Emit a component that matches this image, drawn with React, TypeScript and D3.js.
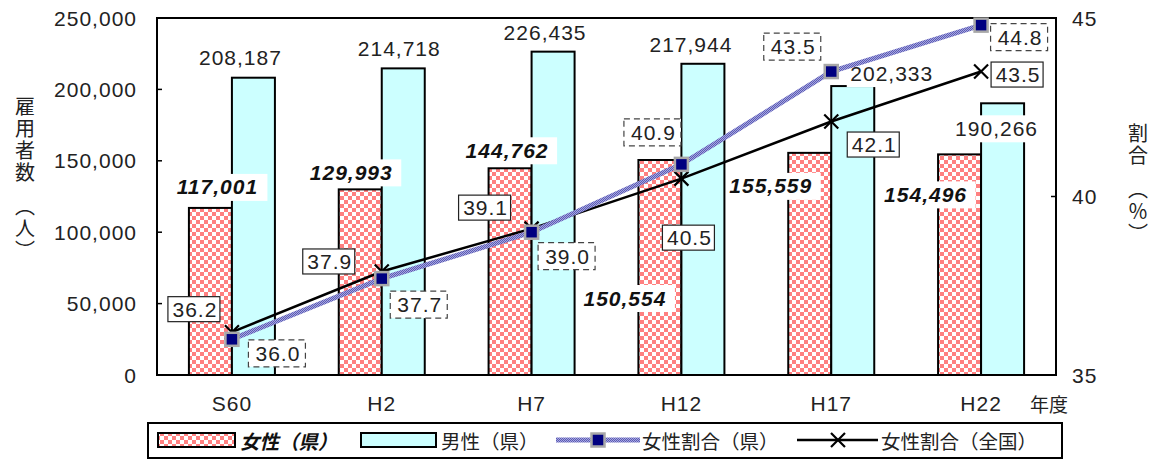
import React from "react";
import * as d3 from "d3";

// 年度
const years = ["S60", "H2", "H7", "H12", "H17", "H22"];
// 雇用者数（人）
const femaleCounts = [117001, 129993, 144762, 150554, 155559, 154496];
const maleCounts = [208187, 214718, 226435, 217944, 202333, 190266];
// 女性割合（%）
const ratioPref = [36.0, 37.7, 39.0, 40.9, 43.5, 44.8];
const ratioNation = [36.2, 37.9, 39.1, 40.5, 42.1, 43.5];

const countTicks = [0, 50000, 100000, 150000, 200000, 250000];
const ratioTicks = [35, 40, 45];

// label offsets (px) from the mark they belong to
const femaleLabelOff = [[7, -21], [-9, -17], [-3, -18], [-35, 138], [-39, 33], [-34, 40]];
const maleLabelOff = [[-13, -20], [-4, -20], [-8, -19], [-12, -19], [39, -13], [-6, 25]];
const prefLabelOff = [[45, 14], [37, 26], [35, 24], [-29, -32], [-39, -25], [38, 12]];
const nationLabelOff = [[-38, -23], [-53, -10], [-47, -21], [7, 59], [42, 23], [36, 3]];

const W = 1159;
const H = 459;
const left = 157;
const right = 1056;
const top = 18;
const bottom = 375;
const barW = 43;

const NUM = "'Liberation Sans', Arial, sans-serif";
const JP = "'Noto Sans CJK JP', sans-serif";

export default function App() {
  const x = d3.scaleBand().domain(years).range([left, right]);
  const y = d3.scaleLinear().domain([0, 250000]).range([bottom, top]);
  const yR = d3.scaleLinear().domain([35, 45]).range([bottom, top]);
  const cx = (d: string) => (x(d) as number) + x.bandwidth() / 2;
  const fmt = d3.format(",");
  const fmt1 = d3.format(".1f");

  const line = d3
    .line<number>()
    .x((_, i) => cx(years[i]))
    .y((v) => yR(v));

  const numStyle = { fontFamily: NUM, fontSize: 21, letterSpacing: 1 };

  const xMark = (px: number, py: number, s = 7) =>
    `M${px - s},${py - s}L${px + s},${py + s}M${px - s},${py + s}L${px + s},${py - s}`;

  return (
    <svg width={W} height={H} style={{ position: "absolute", left: 0, top: 0, background: "#fff" }}>
      <defs>
        <pattern id="check" width="8" height="8" patternUnits="userSpaceOnUse">
          <rect width="8" height="8" fill="#fff" />
          <rect width="4" height="4" fill="#FF8080" />
          <rect x="4" y="4" width="4" height="4" fill="#FF8080" />
        </pattern>
        <pattern id="hatch" width="2" height="2" patternUnits="userSpaceOnUse">
          <rect width="2" height="2" fill="#A8A8DC" />
          <rect width="1" height="1" fill="#5A5AB8" />
          <rect x="1" y="1" width="1" height="1" fill="#5A5AB8" />
        </pattern>
      </defs>

      {/* bars */}
      {years.map((d, i) => (
        <g key={d}>
          <rect
            x={cx(d) - barW}
            y={y(femaleCounts[i])}
            width={barW}
            height={bottom - y(femaleCounts[i])}
            fill="url(#check)"
            stroke="#000"
            strokeWidth={2}
          />
          <rect
            x={cx(d)}
            y={y(maleCounts[i])}
            width={barW}
            height={bottom - y(maleCounts[i])}
            fill="#CCFFFF"
            stroke="#000"
            strokeWidth={2}
          />
        </g>
      ))}

      {/* frame */}
      <rect x={left} y={top} width={right - left} height={bottom - top} fill="none" stroke="#000" strokeWidth={2} />
      {countTicks.slice(1, -1).map((t) => (
        <line key={t} x1={left} x2={left + 5} y1={y(t)} y2={y(t)} stroke="#000" strokeWidth={1.5} />
      ))}
      {ratioTicks.slice(1, -1).map((t) => (
        <line key={t} x1={right - 5} x2={right} y1={yR(t)} y2={yR(t)} stroke="#000" strokeWidth={1.5} />
      ))}

      {/* axis labels */}
      {countTicks.map((t) => (
        <text key={t} x={137} y={y(t)} textAnchor="end" dominantBaseline="central" fill="#222" style={numStyle}>
          {fmt(t)}
        </text>
      ))}
      {ratioTicks.map((t) => (
        <text key={t} x={1072} y={yR(t)} dominantBaseline="central" fill="#222" style={numStyle}>
          {t}
        </text>
      ))}
      {years.map((d) => (
        <text key={d} x={cx(d)} y={403} textAnchor="middle" dominantBaseline="central" fill="#222" style={numStyle}>
          {d}
        </text>
      ))}
      <text x={1030} y={403} dominantBaseline="central" fill="#222" style={{ fontFamily: JP, fontSize: 19 }}>
        年度
      </text>
      <text x={25} y={96} fill="#222" style={{ fontFamily: JP, fontSize: 20, writingMode: "vertical-rl", letterSpacing: 2 }}>
        雇用者数　（人）
      </text>
      <text x={1138} y={123} fill="#222" style={{ fontFamily: JP, fontSize: 20, writingMode: "vertical-rl", letterSpacing: 2 }}>
        割合　（％）
      </text>

      {/* count labels */}
      {years.map((d, i) => {
        const lx = cx(d) - barW / 2 + femaleLabelOff[i][0];
        const ly = y(femaleCounts[i]) + femaleLabelOff[i][1];
        return (
          <g key={"f" + d}>
            <rect x={lx - 42} y={ly - 13} width={92} height={27} fill="#fff" />
            <text
              x={lx}
              y={ly}
              textAnchor="middle"
              dominantBaseline="central"
              fontWeight="bold"
              fontStyle="italic"
              fill="#111"
              style={numStyle}
            >
              {fmt(femaleCounts[i])}
            </text>
          </g>
        );
      })}
      {years.map((d, i) => {
        const lx = cx(d) + barW / 2 + maleLabelOff[i][0];
        const ly = y(maleCounts[i]) + maleLabelOff[i][1];
        return (
          <g key={"m" + d}>
            <rect x={lx - 45} y={ly - 13} width={90} height={27} fill="#fff" />
            <text x={lx} y={ly} textAnchor="middle" dominantBaseline="central" fill="#222" style={numStyle}>
              {fmt(maleCounts[i])}
            </text>
          </g>
        );
      })}

      {/* national ratio line */}
      <path d={line(ratioNation) as string} fill="none" stroke="#000" strokeWidth={2.5} />
      {ratioNation.map((v, i) => (
        <path key={i} d={xMark(cx(years[i]), yR(v))} stroke="#000" strokeWidth={2.2} fill="none" />
      ))}

      {/* prefecture ratio line */}
      <path d={line(ratioPref) as string} fill="none" stroke="url(#hatch)" strokeWidth={5} />
      {ratioPref.map((v, i) => (
        <rect
          key={i}
          x={cx(years[i]) - 6.5}
          y={yR(v) - 6.5}
          width={13}
          height={13}
          fill="#000080"
          stroke="#A8A8A8"
          strokeWidth={2.5}
        />
      ))}

      {/* ratio labels */}
      {ratioNation.map((v, i) => {
        const lx = cx(years[i]) + nationLabelOff[i][0];
        const ly = yR(v) + nationLabelOff[i][1];
        return (
          <g key={"n" + i}>
            <rect x={lx - 26} y={ly - 12.5} width={52} height={25} fill="#fff" stroke="#222" strokeWidth={1.2} />
            <text x={lx + 1} y={ly} textAnchor="middle" dominantBaseline="central" fill="#222" style={numStyle}>
              {fmt1(v)}
            </text>
          </g>
        );
      })}
      {ratioPref.map((v, i) => {
        const lx = cx(years[i]) + prefLabelOff[i][0];
        const ly = yR(v) + prefLabelOff[i][1];
        return (
          <g key={"p" + i}>
            <rect
              x={lx - 28.5}
              y={ly - 13.5}
              width={57}
              height={27}
              fill="#fff"
              stroke="#444"
              strokeWidth={1.2}
              strokeDasharray="6,4"
            />
            <text x={lx + 1} y={ly} textAnchor="middle" dominantBaseline="central" fill="#222" style={numStyle}>
              {fmt1(v)}
            </text>
          </g>
        );
      })}

      {/* legend */}
      <rect x={148} y={423} width={914} height={35} fill="#fff" stroke="#000" strokeWidth={2} />
      <rect x={158} y={433} width={77} height={14} fill="url(#check)" stroke="#000" strokeWidth={2} />
      <text x={240} y={440} dominantBaseline="central" fontWeight="bold" fontStyle="italic" fill="#111" style={{ fontFamily: JP, fontSize: 19.5 }}>
        女性（県）
      </text>
      <rect x={361} y={433} width={75} height={14} fill="#CCFFFF" stroke="#000" strokeWidth={2} />
      <text x={441} y={440} dominantBaseline="central" fill="#222" style={{ fontFamily: JP, fontSize: 19.5 }}>
        男性（県）
      </text>
      <line x1={556} x2={640} y1={440} y2={440} stroke="url(#hatch)" strokeWidth={5} />
      <rect x={591.5} y={433.5} width={13} height={13} fill="#000080" stroke="#A8A8A8" strokeWidth={2.5} />
      <text x={642} y={440} dominantBaseline="central" fill="#222" style={{ fontFamily: JP, fontSize: 19.5 }}>
        女性割合（県）
      </text>
      <line x1={797} x2={878} y1={440} y2={440} stroke="#000" strokeWidth={2.5} />
      <path d={xMark(838, 440)} stroke="#000" strokeWidth={2.2} fill="none" />
      <text x={881} y={440} dominantBaseline="central" fill="#222" style={{ fontFamily: JP, fontSize: 19.5 }}>
        女性割合（全国）
      </text>
    </svg>
  );
}
